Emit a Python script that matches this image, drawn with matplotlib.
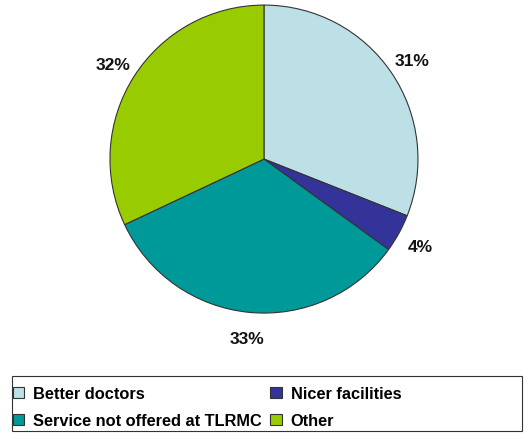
import matplotlib
matplotlib.use("Agg")
import matplotlib.pyplot as plt
from matplotlib.patches import Rectangle

categories = ["Better doctors", "Nicer facilities", "Service not offered at TLRMC", "Other"]
values = [31, 4, 33, 32]
colors = ["#BCE0E5", "#333399", "#009999", "#99CC00"]

plt.rcParams['font.family'] = ['Liberation Sans', 'DejaVu Sans']

fig = plt.figure(figsize=(5.28, 4.35), dpi=100)
ax = fig.add_axes([0.2083, 0.278, 0.5833, 0.708])
wedges, texts = ax.pie(values, colors=colors, startangle=90, counterclock=False,
                       labels=[f"{v}%" for v in values], labeldistance=1.16,
                       wedgeprops=dict(edgecolor="#333333", linewidth=0.8),
                       textprops=dict(fontsize=12.5, fontweight="bold", color="#111111"))
for t in texts:
    t.set_horizontalalignment("center")
    t.set_verticalalignment("center_baseline")
ax.set_xlim(-1, 1)
ax.set_ylim(-1, 1)
ax.set_aspect("equal")

order = [0, 2, 1, 3]
leg = fig.legend([wedges[i] for i in order], [categories[i] for i in order],
                 ncol=2, loc="upper left", bbox_to_anchor=(0.012, 0.125),
                 frameon=False, prop=dict(size=11.8, weight="bold"),
                 handlelength=0.7, handleheight=0.7, handletextpad=0.55,
                 columnspacing=0.5, labelspacing=0.75, borderaxespad=0)
fig.patches.append(Rectangle((0.0227, 0.007), 0.966, 0.126, transform=fig.transFigure,
                             fill=False, edgecolor="#333333", linewidth=0.8))
fig.savefig("out.png", dpi=100)
